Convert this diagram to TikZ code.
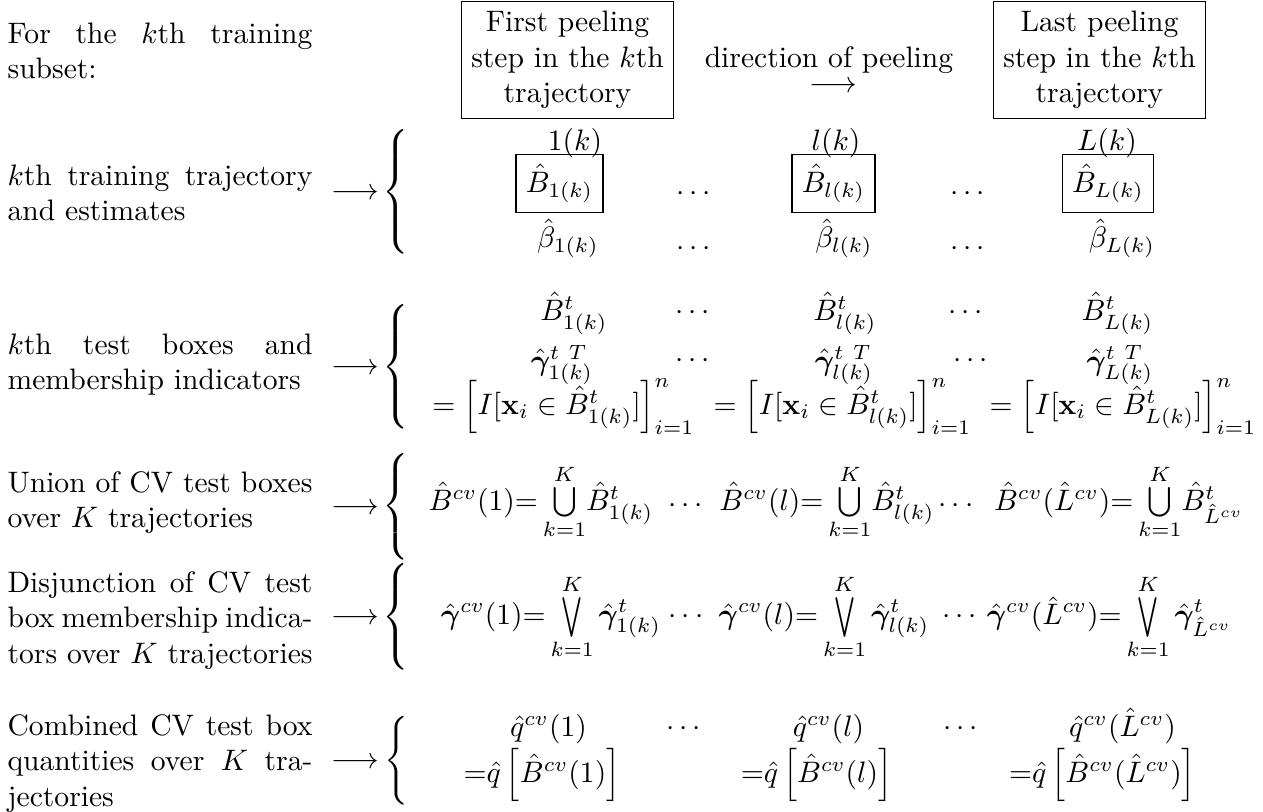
\documentclass[tikz,border=0pt]{standalone}
\usepackage{amsmath,amssymb,bm,graphicx}
\newcommand{\Bh}{\hat{B}}
\newcommand{\gh}{\hat{\bm{\gamma}}}
\newcommand{\jline}[1]{\makebox[\linewidth][s]{\spaceskip=0pt\xspaceskip=0pt #1}}
\newcommand{\narrowvee}{\mathop{\vcenter{\hbox{\scalebox{0.85}[1.35]{$\textstyle\bigvee$}}}}\limits}
\newcommand{\mybrace}[1]{$\delimiterfactor=1000\delimitershortfall=0pt\nulldelimiterspace=0pt\left\{\vcenter{\hrule height #1 width 0pt}\right.$}
\tikzset{
  lt/.style={text width=103pt, align=left, inner sep=0pt, anchor=base west},
  mth/.style={inner sep=0pt, anchor=base},
  bx/.style={draw, inner sep=3.33pt, anchor=base},
  hb/.style={draw, align=center, inner sep=3.33pt},
  dt/.style={inner sep=0pt, anchor=base},
  arr/.style={inner sep=0pt, anchor=base},
  brc/.style={inner sep=0pt, anchor=base}
}
\begin{document}
\begin{tikzpicture}[x=0.3378pt, y=-0.3378pt]
\useasboundingbox (0,0) rectangle (1263,812);
% ---------- Row 0 : header ----------
\node[lt] (t0) at (7,43) {\jline{For the $k$th training}\\subset:};
\node[hb] (first) at (567.5,60) {First peeling\\step in the $k$th\\trajectory};
\node[mth] (dir) at (829,67) {direction of peeling};
\node[arr] (dirarr) at (833,92.4) {$\longrightarrow$};
\node[hb] (last) at (1099.5,60) {Last peeling\\step in the $k$th\\trajectory};
% ---------- Row 1 ----------
\node[lt] (t1) at (7,185) {\jline{$k$th training trajectory}\\and estimates};
\node[arr] (a1) at (355,199.4) {$\longrightarrow$};
\node[brc] (br1) at (396,199.4) {\mybrace{40.9pt}};
\node[mth] (n1) at (575,150) {$1(k)$};
\node[mth] (nl) at (836,150) {$l(k)$};
\node[mth] (nL) at (1107,150) {$L(k)$};
\node[bx] (B1) at (559.5,192) {$\Bh_{1(k)}$};
\node[bx] (Bl) at (833.5,192) {$\Bh_{l(k)}$};
\node[bx] (BL) at (1108,192) {$\Bh_{L(k)}$};
\node[dt] (d1a) at (696,200.4) {$\cdots$};
\node[dt] (d1b) at (970,200.4) {$\cdots$};
\node[mth] (be1) at (568,247.5) {$\hat\beta_{1(k)}$};
\node[mth] (bel) at (844,247.5) {$\hat\beta_{l(k)}$};
\node[mth] (beL) at (1122,247.5) {$\hat\beta_{L(k)}$};
\node[dt] (d1c) at (696,255.4) {$\cdots$};
\node[dt] (d1d) at (970,255.4) {$\cdots$};
% ---------- Row 2 ----------
\node[lt] (t2) at (7,354) {\jline{$k$th test boxes and}\\membership indicators};
\node[arr] (a2) at (355,374.4) {$\longrightarrow$};
\node[brc] (br2) at (396,374.4) {\mybrace{40.5pt}};
\node[mth] (T1) at (574,320) {$\Bh^t_{1(k)}$};
\node[mth] (Tl) at (845,320) {$\Bh^t_{l(k)}$};
\node[mth] (TL) at (1117.5,320) {$\Bh^t_{L(k)}$};
\node[dt] (d2a) at (695,319.4) {$\cdots$};
\node[dt] (d2b) at (968,319.4) {$\cdots$};
\node[mth] (g1) at (562,370) {$\gh^{t\ T}_{1(k)}$};
\node[mth] (gl) at (844,370) {$\gh^{t\ T}_{l(k)}$};
\node[mth] (gL) at (1120,370) {$\gh^{t\ T}_{L(k)}$};
\node[dt] (d2c) at (695,367.4) {$\cdots$};
\node[dt] (d2d) at (973,367.4) {$\cdots$};
\node[mth] (I1) at (563.5,414) {$=\left[I[\mathbf{x}_i\in\Bh^t_{1(k)}]\right]_{i=1}^{n}$};
\node[mth] (Il) at (842.5,414) {$=\left[I[\mathbf{x}_i\in\Bh^t_{l(k)}]\right]_{i=1}^{n}$};
\node[mth] (IL) at (1123,414) {$=\left[I[\mathbf{x}_i\in\Bh^t_{L(k)}]\right]_{i=1}^{n}$};
% ---------- Row 3 ----------
\node[lt] (t3) at (7,492) {\jline{Union of CV test boxes}\\over $K$ trajectories};
\node[arr] (a3) at (355,514) {$\longrightarrow$};
\node[brc] (br3) at (396,514) {\mybrace{32pt}};
\node[mth] (U1) at (541,510) {$\Bh^{cv}(1){=}\bigcup\limits_{k=1}^{K}\!\Bh^t_{1(k)}$};
\node[mth] (Ul) at (827,510) {$\Bh^{cv}(l){=}\bigcup\limits_{k=1}^{K}\!\Bh^t_{l(k)}$};
\node[mth] (UL) at (1119,510) {$\Bh^{cv}(\hat L^{cv}){=}\bigcup\limits_{k=1}^{K}\!\Bh^t_{\hat L^{cv}}$};
\node[dt] (d3a) at (688,512.4) {$\cdots$};
\node[dt] (d3b) at (958.5,512.4) {$\cdots$};
% ---------- Row 4 ----------
\node[lt] (t4) at (7,592) {\jline{Disjunction of CV test}\\\jline{box membership indica-}\\tors over $K$ trajectories};
\node[arr] (a4) at (355,624.4) {$\longrightarrow$};
\node[brc] (br4) at (396,624.4) {\mybrace{30.4pt}};
\node[mth] (V1) at (551,624.5) {$\displaystyle\gh^{cv}(1){=}\narrowvee_{k=1}^{K}\gh^t_{1(k)}$};
\node[mth] (Vl) at (824,624.5) {$\displaystyle\gh^{cv}(l){=}\narrowvee_{k=1}^{K}\gh^t_{l(k)}$};
\node[mth] (VL) at (1109.5,624.5) {$\displaystyle\gh^{cv}(\hat L^{cv}){=}\narrowvee_{k=1}^{K}\gh^t_{\hat L^{cv}}$};
\node[dt] (d4a) at (688.5,623.4) {$\cdots$};
\node[dt] (d4b) at (962,623.4) {$\cdots$};
% ---------- Row 5 ----------
\node[lt] (t5) at (7,735) {\jline{Combined CV test box}\\\jline{quantities over $K$ tra-}\\jectories};
\node[arr] (a5) at (355,768.4) {$\longrightarrow$};
\node[brc] (br5) at (396,768.4) {\mybrace{28.7pt}};
\node[mth] (q1) at (548.5,736) {$\hat q^{cv}(1)$};
\node[mth] (ql) at (828.5,736) {$\hat q^{cv}(l)$};
\node[mth] (qL) at (1122.5,736) {$\hat q^{cv}(\hat L^{cv})$};
\node[mth] (Q1) at (542,782) {${=}\hat q\left[\Bh^{cv}(1)\right]$};
\node[mth] (Ql) at (816.5,782) {${=}\hat q\left[\Bh^{cv}(l)\right]$};
\node[mth] (QL) at (1102.5,782) {${=}\hat q\left[\Bh^{cv}(\hat L^{cv})\right]$};
\node[dt] (d5a) at (686,735.4) {$\cdots$};
\node[dt] (d5b) at (963,735.4) {$\cdots$};
\end{tikzpicture}
\end{document}
